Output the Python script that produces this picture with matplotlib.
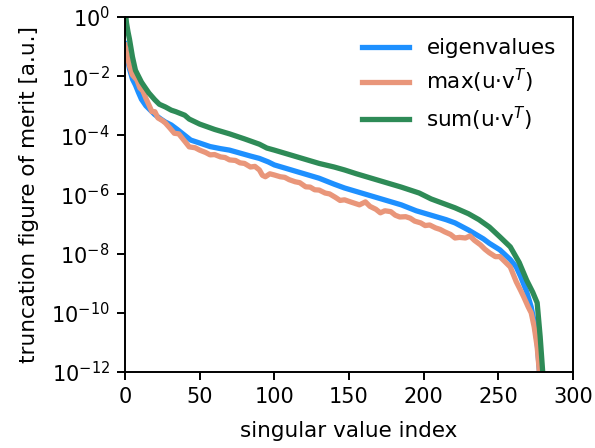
# Truncation figure of merit vs singular value index

import numpy as np
import matplotlib.pyplot as plt

# log10 values
eig_idx = [0, 1, 2, 3, 5, 7, 9, 11, 14, 17, 20, 24, 27, 31, 35, 40, 44, 50, 57, 64,
           70, 77, 84, 90, 96, 100, 110, 120, 130, 140, 147, 155, 165, 175, 185, 195,
           205, 215, 221, 230, 240, 244, 251, 258, 262, 265, 269, 272, 274, 276, 278]
eig_log = [-0.9, -1.25, -1.5, -1.75, -2.1, -2.3, -2.55, -2.78, -3.0, -3.15, -3.3, -3.45,
           -3.55, -3.65, -3.8, -4.0, -4.16, -4.26, -4.38, -4.45, -4.5, -4.6, -4.7, -4.78,
           -4.9, -5.0, -5.15, -5.3, -5.45, -5.65, -5.78, -5.9, -6.05, -6.2, -6.35, -6.55,
           -6.7, -6.85, -6.96, -7.2, -7.5, -7.65, -7.87, -8.2, -8.45, -8.78, -9.29, -9.8,
           -10.3, -11.0, -12.3]

max_idx = [0, 1, 3, 5, 8, 10, 12, 14, 16, 18, 20, 22, 25, 27, 30, 33, 36, 40, 43, 47,
           50, 54, 57, 60, 64, 67, 70, 74, 77, 80, 84, 87, 90, 92, 94, 97, 100, 104, 107,
           110, 114, 117, 121, 124, 127, 130, 134, 137, 141, 144, 147, 151, 154, 157, 161,
           164, 168, 171, 174, 178, 181, 184, 188, 191, 194, 198, 201, 204, 208, 211, 214,
           218, 221, 224, 228, 231, 234, 238, 241, 244, 248, 251, 254, 258, 262, 265, 267,
           270, 272, 274, 276, 278]
max_log = [-0.95, -1.2, -1.65, -1.96, -2.13, -2.4, -2.5, -2.75, -2.97, -3.2, -3.2, -3.41,
           -3.5, -3.58, -3.75, -3.93, -3.95, -4.2, -4.39, -4.42, -4.5, -4.58, -4.66, -4.65,
           -4.73, -4.75, -4.83, -4.85, -4.93, -4.95, -5.07, -5.05, -5.17, -5.35, -5.4,
           -5.3, -5.34, -5.4, -5.42, -5.5, -5.57, -5.6, -5.74, -5.75, -5.84, -5.85, -5.95,
           -5.98, -6.1, -6.2, -6.18, -6.25, -6.3, -6.35, -6.25, -6.4, -6.5, -6.62, -6.55,
           -6.58, -6.7, -6.76, -6.75, -6.8, -6.9, -6.96, -7.05, -7.03, -7.13, -7.18, -7.26,
           -7.35, -7.47, -7.45, -7.47, -7.4, -7.55, -7.7, -7.85, -7.97, -8.1, -8.1, -8.25,
           -8.45, -8.95, -9.25, -9.46, -9.8, -10.0, -10.47, -11.15, -12.3]

sum_idx = [0, 1, 2, 3, 4, 5, 7, 9, 11, 13, 16, 20, 23, 27, 31, 34, 40, 43, 50, 60, 70,
           80, 90, 95, 100, 110, 120, 130, 140, 147, 155, 165, 175, 185, 197, 205, 213,
           221, 230, 237, 244, 251, 258, 264, 269, 273, 276, 278, 280]
sum_log = [0.3, -0.2, -0.5, -0.75, -1.05, -1.35, -1.8, -2.0, -2.2, -2.35, -2.57, -2.8,
           -2.95, -3.04, -3.15, -3.2, -3.32, -3.45, -3.62, -3.8, -3.95, -4.12, -4.3, -4.43,
           -4.5, -4.65, -4.8, -4.95, -5.07, -5.17, -5.3, -5.45, -5.6, -5.75, -5.95, -6.15,
           -6.3, -6.45, -6.65, -6.85, -7.1, -7.43, -7.77, -8.3, -8.9, -9.3, -9.66, -10.8,
           -12.2]

fig = plt.figure(figsize=(5.95, 4.48), dpi=100)
ax = fig.add_axes([125/595, 1 - 372/448, 448/595, 355/448])

ax.plot(eig_idx, 10.0**np.array(eig_log), color='dodgerblue', lw=3.8, label='eigenvalues')
ax.plot(max_idx, 10.0**np.array(max_log), color='darksalmon', lw=3.8, label='max(u·v$^T$)')
ax.plot(sum_idx, 10.0**np.array(sum_log), color='seagreen', lw=3.8, label='sum(u·v$^T$)')

ax.set_yscale('log')
ax.set_xlim(0, 300)
ax.set_ylim(1e-12, 1e0)
ax.set_yticks([10.0**k for k in range(-12, 1, 2)])
ax.minorticks_off()
ax.tick_params(labelsize=15, length=6, width=1.4, pad=5)
for s in ax.spines.values():
    s.set_linewidth(1.4)

ax.set_xlabel('singular value index', fontsize=15.5, labelpad=10)
ax.set_ylabel('truncation figure of merit [a.u.]', fontsize=15.5, labelpad=9)
ax.legend(loc='upper right', frameon=False, fontsize=15.5, handlelength=2.2,
          labelspacing=0.42, bbox_to_anchor=(1.005, 0.995))

fig.savefig('out.png', dpi=100)
